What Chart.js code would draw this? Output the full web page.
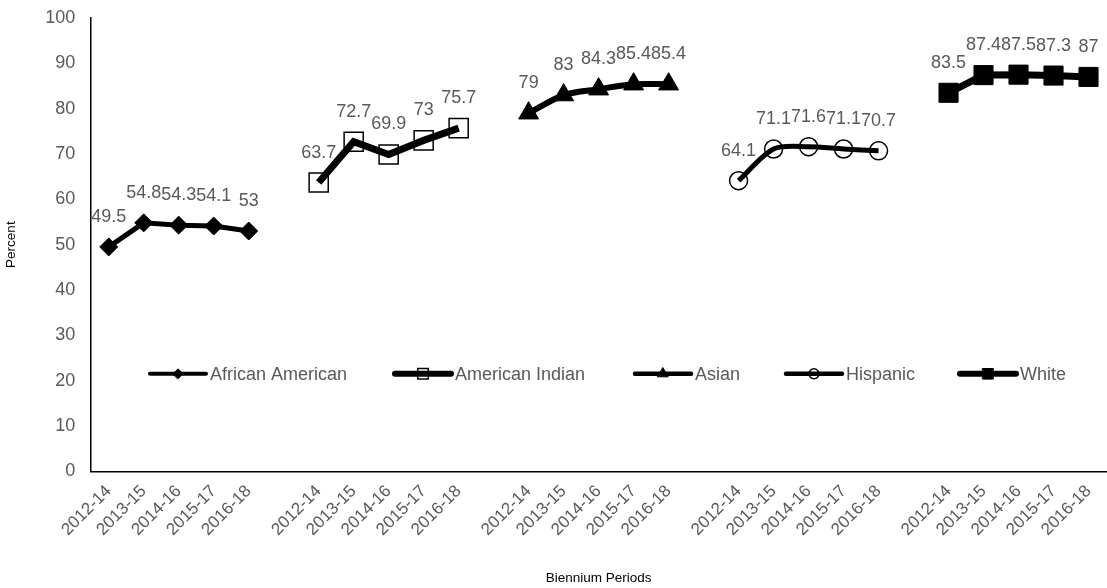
<!DOCTYPE html>
<html lang="en">
<head>
  <meta charset="UTF-8" />
  <title>Biennium Periods by Group</title>
  <script src="https://cdn.jsdelivr.net/npm/chart.js@4.4.0/dist/chart.umd.min.js"></script>
  <style>
    html, body { margin: 0; padding: 0; background: #fff; overflow: hidden; }
    #wrap { width: 1107px; height: 588px; position: relative; }
    #chart { display: block; }
  </style>
</head>
<body>
  <div id="wrap"><canvas id="chart"></canvas></div>
  <script>
    // periods repeated for each group, blank slot between groups
    const periods = ["2012-14", "2013-15", "2014-16", "2015-17", "2016-18"];
    const groups = ["African American", "American Indian", "Asian", "Hispanic", "White"];

    const africanAmerican = [49.5, 54.8, 54.3, 54.1, 53];
    const americanIndian = [63.7, 72.7, 69.9, 73, 75.7];
    const asian = [79, 83, 84.3, 85.4, 85.4];
    const hispanic = [64.1, 71.1, 71.6, 71.1, 70.7];
    const white = [83.5, 87.4, 87.5, 87.3, 87];

    const yTicks = [0, 10, 20, 30, 40, 50, 60, 70, 80, 90, 100];

    const TEXT = "#595959";
    const FONT = "'Liberation Sans', Arial, sans-serif";
    const CLEAR = "rgba(0,0,0,0)";

    // build the category axis: 5 periods + gap, per group
    const labels = [];
    groups.forEach((g, i) => {
      periods.forEach(p => labels.push(p));
      if (i < groups.length - 1) labels.push("");
    });

    function placeGroup(values, groupIndex) {
      const arr = new Array(labels.length).fill(null);
      values.forEach((v, k) => { arr[groupIndex * 6 + k] = v; });
      return arr;
    }

    const styles = [
      { pointStyle: "rectRot", radius: 9, fill: "#000", border: 1, width: 5, tension: 0, lgWidth: 4, lgRadius: 5 },
      { pointStyle: "rect", radius: 13.5, fill: CLEAR, border: 1.5, width: 7, tension: 0, lgWidth: 6, lgRadius: 7.5 },
      { pointStyle: "triangle", radius: 11.5, fill: "#000", border: 1, width: 6, tension: 0.3, lgWidth: 4.5, lgRadius: 6 },
      { pointStyle: "circle", radius: 9, fill: CLEAR, border: 1.5, width: 5, tension: 0.3, lgWidth: 4.5, lgRadius: 5 },
      { pointStyle: "rect", radius: 13.5, fill: "#000", border: 1, width: 7, tension: 0, lgWidth: 6, lgRadius: 7.5 }
    ];

    const series = [africanAmerican, americanIndian, asian, hispanic, white];

    const datasets = series.map((vals, i) => ({
      label: groups[i],
      data: placeGroup(vals, i),
      borderColor: "#000",
      borderWidth: styles[i].width,
      tension: styles[i].tension,
      pointStyle: styles[i].pointStyle,
      pointRadius: styles[i].radius,
      pointHoverRadius: styles[i].radius,
      pointBackgroundColor: styles[i].fill,
      pointBorderColor: "#000",
      pointBorderWidth: styles[i].border,
      spanGaps: false,
      fill: false
    }));

    // value labels above each point
    const valueLabels = {
      id: "valueLabels",
      afterDatasetsDraw(chart) {
        const ctx = chart.ctx;
        ctx.save();
        ctx.font = "18px " + FONT;
        ctx.fillStyle = TEXT;
        ctx.textAlign = "center";
        ctx.textBaseline = "middle";
        chart.data.datasets.forEach((ds, i) => {
          const meta = chart.getDatasetMeta(i);
          meta.data.forEach((pt, j) => {
            if (ds.data[j] === null) return;
            ctx.fillText(String(ds.data[j]), pt.x, pt.y - 30);
          });
        });
        ctx.restore();
      }
    };

    // legend drawn inside the plot, Excel style (line with marker)
    const legendX = [150, 395, 635, 786, 960];
    const insideLegend = {
      id: "insideLegend",
      afterDraw(chart) {
        const ctx = chart.ctx;
        const y = chart.scales.y.getPixelForValue(21.5);
        ctx.save();
        ctx.font = "18px " + FONT;
        ctx.textBaseline = "middle";
        groups.forEach((g, i) => {
          const st = styles[i];
          const x0 = legendX[i], x1 = x0 + 56;
          ctx.strokeStyle = "#000";
          ctx.lineWidth = st.lgWidth;
          ctx.lineCap = "round";
          ctx.beginPath();
          ctx.moveTo(x0, y);
          ctx.lineTo(x1, y);
          ctx.stroke();
          ctx.lineWidth = st.border;
          ctx.fillStyle = st.fill;
          Chart.helpers.drawPoint(ctx, {
            pointStyle: st.pointStyle,
            radius: st.lgRadius,
            borderWidth: st.border
          }, (x0 + x1) / 2, y);
          ctx.fillStyle = TEXT;
          ctx.fillText(g, x1 + 4, y + 1);
        });
        ctx.restore();
      }
    };

    new Chart(document.getElementById("chart"), {
      type: "line",
      data: { labels: labels, datasets: datasets },
      plugins: [valueLabels, insideLegend],
      options: {
        responsive: true,
        maintainAspectRatio: false,
        animation: false,
        layout: { autoPadding: false, padding: { top: 18, right: 1, left: 3, bottom: 2 } },
        plugins: {
          legend: { display: false },
          tooltip: { enabled: false }
        },
        scales: {
          x: {
            offset: true,
            grid: { display: false, drawTicks: false },
            border: { color: "#000", width: 1.5 },
            afterFit(scale) { scale.paddingRight = 0; scale.paddingLeft = 0; },
            ticks: {
              color: TEXT,
              font: { family: FONT, size: 17 },
              minRotation: 45,
              maxRotation: 45,
              autoSkip: false,
              padding: 10
            },
            title: {
              display: true,
              text: "Biennium Periods",
              color: "#000",
              font: { family: FONT, size: 13.5 },
              padding: { top: 20, bottom: 0 }
            }
          },
          y: {
            min: 0,
            max: 100,
            afterBuildTicks(axis) { axis.ticks = yTicks.map(v => ({ value: v })); },
            afterFit(scale) { scale.paddingTop = 0; scale.paddingBottom = 0; },
            grid: { display: false, drawTicks: false },
            border: { color: "#000", width: 1.5 },
            ticks: {
              color: TEXT,
              font: { family: FONT, size: 18 },
              padding: 16
            },
            title: {
              display: true,
              text: "Percent",
              color: "#000",
              font: { family: FONT, size: 13.5 },
              padding: { top: 0, bottom: 10 }
            }
          }
        }
      }
    });
  </script>
</body>
</html>
